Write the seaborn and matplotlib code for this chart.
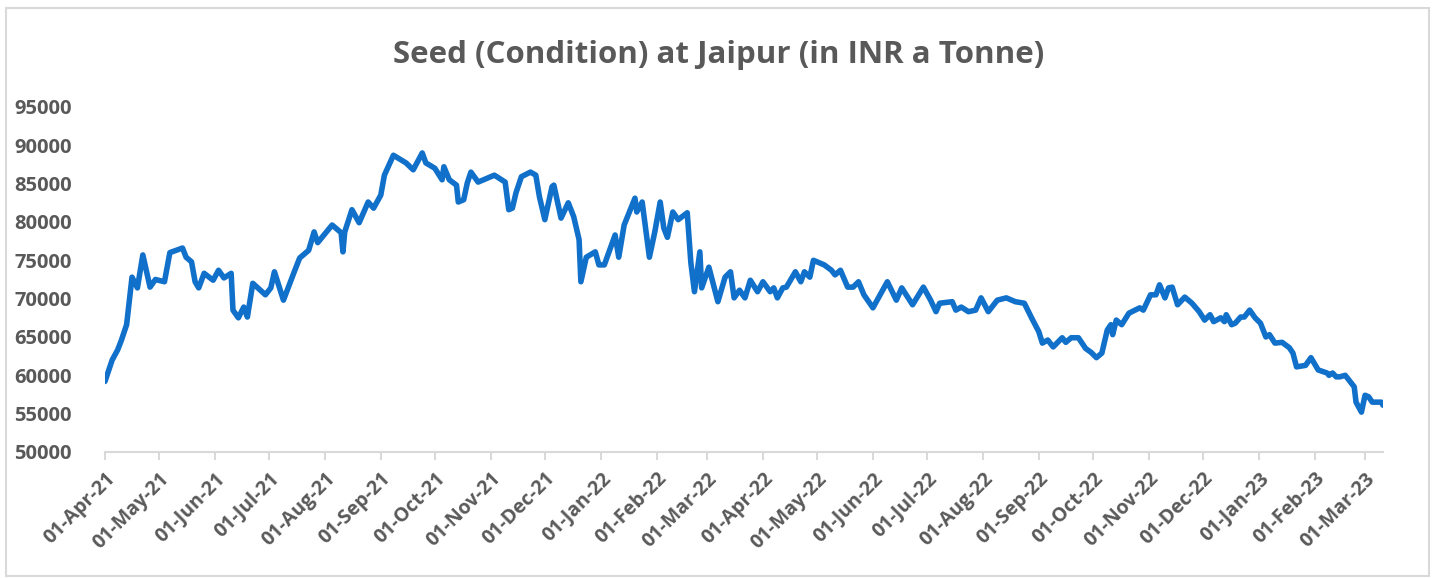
import pandas as pd
import matplotlib.pyplot as plt
import matplotlib.dates as mdates
from matplotlib.patches import Rectangle
import seaborn as sns

# 读图估计的价格序列（日期, 价格）
dates = [
    '2021-04-01', '2021-04-05', '2021-04-08', '2021-04-10', '2021-04-13', '2021-04-16',
    '2021-04-19', '2021-04-22', '2021-04-26', '2021-04-29',
    '2021-05-04', '2021-05-07', '2021-05-14', '2021-05-16', '2021-05-19', '2021-05-21',
    '2021-05-23', '2021-05-26', '2021-05-31',
    '2021-06-03', '2021-06-06', '2021-06-10', '2021-06-11', '2021-06-14', '2021-06-17',
    '2021-06-19', '2021-06-22', '2021-06-29',
    '2021-07-02', '2021-07-04', '2021-07-09', '2021-07-15', '2021-07-18', '2021-07-23',
    '2021-07-26', '2021-07-28',
    '2021-08-05', '2021-08-10', '2021-08-11', '2021-08-12', '2021-08-16', '2021-08-20',
    '2021-08-25', '2021-08-28',
    '2021-09-01', '2021-09-03', '2021-09-08', '2021-09-15', '2021-09-19', '2021-09-24',
    '2021-09-26',
    '2021-10-01', '2021-10-05', '2021-10-06', '2021-10-09', '2021-10-13', '2021-10-14',
    '2021-10-17', '2021-10-19', '2021-10-21', '2021-10-25',
    '2021-11-03', '2021-11-09', '2021-11-11', '2021-11-13', '2021-11-15', '2021-11-18',
    '2021-11-23', '2021-11-26', '2021-11-28',
    '2021-12-01', '2021-12-05', '2021-12-06', '2021-12-10', '2021-12-14', '2021-12-17',
    '2021-12-20', '2021-12-21', '2021-12-24', '2021-12-29', '2021-12-31',
    '2022-01-03', '2022-01-09', '2022-01-11', '2022-01-14', '2022-01-20', '2022-01-21',
    '2022-01-24', '2022-01-28', '2022-01-31',
    '2022-02-03', '2022-02-05', '2022-02-07', '2022-02-10', '2022-02-13', '2022-02-18',
    '2022-02-20', '2022-02-22', '2022-02-25', '2022-02-26',
    '2022-03-02', '2022-03-07', '2022-03-11', '2022-03-14', '2022-03-16', '2022-03-19',
    '2022-03-22', '2022-03-25', '2022-03-29',
    '2022-04-01', '2022-04-05', '2022-04-07', '2022-04-09', '2022-04-12', '2022-04-14',
    '2022-04-19', '2022-04-22', '2022-04-24', '2022-04-27', '2022-04-29',
    '2022-05-05', '2022-05-09', '2022-05-11', '2022-05-14', '2022-05-18', '2022-05-21',
    '2022-05-24', '2022-05-27',
    '2022-06-01', '2022-06-09', '2022-06-14', '2022-06-17', '2022-06-23', '2022-06-29',
    '2022-07-03', '2022-07-06', '2022-07-08', '2022-07-15', '2022-07-17', '2022-07-20',
    '2022-07-24', '2022-07-28', '2022-07-31',
    '2022-08-04', '2022-08-09', '2022-08-14', '2022-08-19', '2022-08-24', '2022-08-28',
    '2022-09-01', '2022-09-03', '2022-09-06', '2022-09-09', '2022-09-14', '2022-09-16',
    '2022-09-19', '2022-09-23', '2022-09-27', '2022-09-30',
    '2022-10-03', '2022-10-06', '2022-10-09', '2022-10-11', '2022-10-12', '2022-10-14',
    '2022-10-17', '2022-10-21', '2022-10-27', '2022-10-29',
    '2022-11-02', '2022-11-05', '2022-11-07', '2022-11-10', '2022-11-12', '2022-11-14',
    '2022-11-17', '2022-11-21', '2022-11-25', '2022-11-29',
    '2022-12-02', '2022-12-05', '2022-12-07', '2022-12-11', '2022-12-13', '2022-12-14',
    '2022-12-17', '2022-12-19', '2022-12-22', '2022-12-24', '2022-12-27', '2022-12-30',
    '2023-01-02', '2023-01-05', '2023-01-07', '2023-01-10', '2023-01-14', '2023-01-18',
    '2023-01-20', '2023-01-22', '2023-01-27', '2023-01-30',
    '2023-02-03', '2023-02-08', '2023-02-09', '2023-02-11', '2023-02-13', '2023-02-15',
    '2023-02-18', '2023-02-20', '2023-02-23', '2023-02-24', '2023-02-27',
    '2023-03-01', '2023-03-03', '2023-03-05', '2023-03-10', '2023-03-11',
]
prices = [
    59200, 62000, 63300, 64500, 66600, 72800,
    71400, 75700, 71500, 72500,
    72200, 76000, 76600, 75400, 74800, 72200,
    71400, 73300, 72400,
    73700, 72700, 73300, 68500, 67500, 68900,
    67600, 72000, 70500,
    71400, 73500, 69800, 73500, 75300, 76300,
    78700, 77300,
    79600, 78600, 76100, 78700, 81600, 79900,
    82600, 81800,
    83500, 86100, 88700, 87700, 86800, 89000,
    87700,
    87000, 85500, 87200, 85500, 84800, 82600,
    82900, 85100, 86500, 85200,
    86100, 85200, 81600, 81800, 83800, 85900,
    86500, 86100, 83300,
    80300, 84600, 84800, 80500, 82500, 80700,
    77700, 72200, 75400, 76100, 74400,
    74400, 78300, 75400, 79600, 83100, 81300,
    82600, 75400, 78700,
    82600, 79200, 78000, 81300, 80300, 81200,
    74700, 70900, 76100, 71400,
    74100, 69600, 72800, 73500, 70100, 71100,
    70100, 72400, 70900,
    72200, 70900, 71400, 70100, 71400, 71500,
    73500, 72200, 73500, 72800, 75000,
    74400, 73700, 73100, 73700, 71500, 71500,
    72200, 70500,
    68800, 72200, 69800, 71400, 69200, 71500,
    69800, 68300, 69400, 69600, 68500, 68900,
    68300, 68500, 70100,
    68300, 69800, 70100, 69600, 69400, 67500,
    65700, 64200, 64600, 63700, 64900, 64300,
    64900, 64900, 63500, 63000,
    62300, 62900, 65900, 66600, 65300, 67200,
    66600, 68100, 68800, 68500,
    70500, 70500, 71800, 70100, 71400, 71500,
    69200, 70200, 69400, 68300,
    67200, 67900, 67000, 67500, 67000, 67900,
    66600, 66800, 67600, 67600, 68500, 67500,
    66800, 65000, 65300, 64200, 64300, 63600,
    62900, 61100, 61300, 62300,
    60700, 60300, 60000, 60300, 59800, 59800,
    60000, 59400, 58500, 56500, 55200,
    57400, 57200, 56500, 56500, 56100,
]
month_ticks = pd.date_range('2021-04-01', '2023-03-01', freq='MS')
y_ticks = list(range(50000, 95001, 5000))

df = pd.DataFrame({'date': pd.to_datetime(dates), 'price': prices})

sns.set_theme(style='white')
plt.rcParams['font.family'] = ['Open Sans', 'DejaVu Sans']

grey = '#595959'
fig = plt.figure(figsize=(14.38, 5.78), dpi=100)
ax = fig.add_axes([0.073, 0.218, 0.8888, 0.597])

sns.lineplot(data=df, x='date', y='price', ax=ax, color='#1170C9', linewidth=4)

ax.set_ylim(50000, 95000)
ax.set_yticks(y_ticks)
ax.set_xlim(pd.Timestamp('2021-04-01'), pd.Timestamp('2023-03-11'))
ax.set_xticks(month_ticks)
ax.xaxis.set_major_formatter(mdates.DateFormatter('%d-%b-%y'))

for side in ['top', 'right', 'left']:
    ax.spines[side].set_visible(False)
ax.spines['bottom'].set_color('#d9d9d9')
ax.spines['bottom'].set_linewidth(1.5)

ax.tick_params(axis='x', bottom=True, direction='out', length=6, width=1.5,
               color='#d9d9d9', labelsize=14, labelcolor=grey, pad=6)
ax.tick_params(axis='y', left=False, labelsize=14.5, labelcolor=grey, pad=18)
for lab in ax.get_xticklabels():
    lab.set_rotation(45)
    lab.set_ha('right')
    lab.set_rotation_mode('anchor')
    lab.set_fontweight('bold')
for lab in ax.get_yticklabels():
    lab.set_fontweight('bold')

ax.set_xlabel('')
ax.set_ylabel('')

fig.text(0.4997, 0.905, 'Seed (Condition) at Jaipur (in INR a Tonne)', ha='center', va='center',
         fontsize=22.5, fontweight='bold', color=grey)

# 外框
fig.patches.append(Rectangle((0.004, 0.004), 0.99, 0.982, transform=fig.transFigure,
                             fill=False, edgecolor='#d9d9d9', linewidth=1.5))

fig.savefig('out.png', dpi=100)
